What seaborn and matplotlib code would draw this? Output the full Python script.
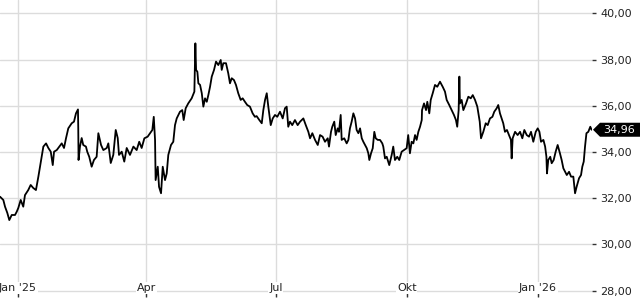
import pandas as pd
import matplotlib
matplotlib.use('Agg')
import matplotlib.pyplot as plt
import seaborn as sns
from matplotlib.patches import Polygon
from matplotlib.transforms import IdentityTransform

# ---- data ----
start_date = '2025-01-01'
day_offsets = [
    -12.6, -10.3, -9.1, -7.5, -6.1, -4.4, -2.1, -0.9, 0.2, 1.9, 3.7, 4.9, 7.2, 8.9, 10.7,
    12.6, 14.3, 15.9, 17.8, 19.7, 21.3, 23.0, 24.4, 25.3, 27.2, 29.0, 30.7, 32.3, 33.7, 35.3,
    37.7, 39.3, 40.7, 42.1, 42.3, 42.5, 43.5, 44.7, 45.8, 47.7, 48.6, 50.0, 51.7, 53.3, 55.2,
    56.4, 58.3, 59.9, 62.3, 63.4, 65.1, 66.9, 68.6, 70.0, 70.9, 72.8, 74.6, 76.3, 78.6, 81.0,
    83.3, 85.1, 86.8, 88.7, 91.0, 92.7, 94.3, 95.3, 96.2, 96.4, 96.6, 98.1, 99.0, 100.4, 101.6,
    103.2, 104.4, 105.5, 107.4, 109.0, 110.2, 111.4, 113.7, 115.3, 116.3, 117.7, 119.5, 121.9, 123.8,
    124.5, 125.0, 125.9, 126.6, 127.8, 129.0, 130.1, 131.3, 132.5, 133.6, 134.8, 136.0, 137.6, 139.0, 140.6,
    142.3, 143.0, 144.1, 146.0, 147.6, 148.8, 150.0, 151.6, 153.0, 154.6, 156.3, 157.7, 159.3, 160.9, 162.8,
    164.7, 166.3, 167.5, 169.4, 171.1, 172.2, 173.4, 174.6, 175.7, 177.4, 178.8, 180.4, 182.0, 183.9, 185.8,
    187.4, 188.6, 189.7, 190.9, 192.5, 194.4, 196.3, 198.0, 200.3, 202.0, 203.8, 205.0, 206.6, 208.5, 210.4,
    212.0, 213.8, 215.5, 217.4, 218.3, 219.7, 220.6, 222.0, 223.0, 224.4, 225.3, 226.5, 227.2, 229.0, 230.7,
    231.9, 233.0, 234.2, 235.4, 236.6, 237.7, 238.9, 240.1, 241.3, 242.4, 243.6, 244.8, 245.9, 246.6, 247.8,
    249.0, 250.1, 251.1, 252.5, 254.1, 255.7,
    256.4, 257.6, 258.8, 260.6, 262.3, 263.4, 264.6, 266.2, 267.6, 269.3, 270.9, 272.8, 273.9, 275.1, 276.3,
    277.5, 278.7, 279.8, 281.0, 282.2, 283.4, 283.6, 285.0, 286.4, 287.3, 288.7, 289.7, 291.1, 292.7, 294.3,
    296.2, 298.1, 299.7, 300.9, 302.7, 304.4, 306.0, 307.4, 308.3, 309.3, 309.8, 310.2, 311.4, 312.6, 314.5,
    316.1, 317.8, 319.2, 320.8, 322.4,
    324.1, 325.0, 326.6, 328.3, 329.7, 331.3, 333.0, 334.3, 336.0, 337.1, 338.3, 339.5, 340.6, 341.8, 343.2,
    344.6, 346.0, 346.5, 347.2, 348.9, 350.7, 352.4, 354.0, 355.4, 357.1, 358.7, 360.1, 361.7, 363.4, 364.8,
    366.0, 367.1, 368.8, 370.0, 370.9, 371.3, 372.2, 373.6, 374.6, 376.0, 377.4, 378.8, 380.4, 381.6, 382.8,
    384.0, 385.2, 386.8, 388.2, 389.8, 391.0, 392.1, 393.8, 395.2, 396.1, 397.1, 398.0, 399.0, 400.3, 401.7,
    402.6,
]
prices = [
    32.06, 31.92, 31.63, 31.36, 31.05, 31.27, 31.27, 31.41, 31.57, 31.92, 31.63, 32.13, 32.35, 32.57, 32.44,
    32.35, 32.93, 33.52, 34.23, 34.37, 34.17, 34.01, 33.43, 34.01, 34.08, 34.23, 34.37, 34.17, 34.59, 35.02,
    35.24, 35.31, 35.67, 35.84, 35.03, 33.65, 34.23, 34.60, 34.30, 34.23, 34.01, 33.79, 33.36, 33.65, 33.79,
    34.81, 34.30, 34.08, 34.17, 34.37, 33.52, 33.87, 34.95, 34.60, 33.87, 34.01, 33.58, 34.17, 33.87, 34.23,
    34.08, 34.44, 34.17, 34.59, 34.66, 34.81, 34.95, 35.52, 34.52, 33.79, 32.78, 33.36, 32.49, 32.21, 33.36,
    32.78, 33.07, 33.87, 34.30, 34.44, 35.16, 35.45, 35.74, 35.81, 35.38, 35.89, 36.10, 36.32, 36.61,
    38.70, 37.55, 37.47, 36.97, 36.90, 36.54, 35.96, 36.32, 36.17, 36.46, 36.82, 37.26, 37.55, 37.91, 37.76,
    37.98, 37.55, 37.84, 37.84, 37.40, 36.97, 37.19, 37.11, 36.90, 36.54, 36.25, 36.32, 36.17, 36.03, 35.96,
    35.67, 35.52, 35.55, 35.38, 35.24, 35.81, 36.25, 36.54, 35.96, 35.16, 35.45, 35.60, 35.52, 35.74, 35.45,
    35.89, 35.96, 35.09, 35.31, 35.16, 35.38, 35.16, 35.31, 35.45, 35.16, 34.87, 34.59, 34.81, 34.52, 34.30,
    34.73, 34.66, 34.44, 34.59, 34.23, 34.87, 35.09, 35.31, 34.73, 35.02, 34.87, 35.60, 34.52, 34.59, 34.37,
    34.52, 35.02, 35.31, 35.67, 35.45, 34.95, 34.81, 35.02, 34.59, 34.44, 34.30, 34.16, 33.94, 33.65, 33.94,
    34.16, 34.87, 34.59, 34.52, 34.52, 34.37,
    34.23, 33.72, 33.79, 33.43, 33.87, 34.23, 33.65, 33.79, 33.65, 34.01, 34.08, 34.16, 34.73, 33.94, 34.44,
    34.37, 34.73, 34.52, 34.87, 35.09, 35.38, 35.81, 36.10, 35.81, 36.17, 35.67, 36.25, 36.54, 36.90, 36.82,
    37.04, 36.82, 36.61, 36.25, 36.03, 35.81, 35.60, 35.38, 35.09, 35.81, 37.26, 36.10, 36.25, 35.81, 36.10,
    36.39, 36.32, 36.46, 36.25, 35.96,
    35.31, 34.59, 34.87, 35.24, 35.16, 35.45, 35.52, 35.74, 35.89, 36.03, 35.67, 35.45, 35.24, 34.87, 34.95,
    34.73, 34.52, 33.72, 34.59, 34.87, 34.73, 34.87, 34.59, 34.95, 34.73, 34.66, 34.87, 34.44, 34.87, 35.02,
    34.87, 34.44, 34.52, 34.23, 33.79, 33.07, 33.65, 33.79, 33.51, 33.65, 34.01, 34.30, 33.94, 33.65, 33.29,
    33.14, 33.00, 33.14, 32.93, 32.93, 32.21, 32.49, 32.86, 33.00, 33.36, 33.58, 34.23, 34.81, 34.87, 35.09,
    34.96,
]
xtick_dates = ['2025-01-01', '2025-04-01', '2025-07-01', '2025-10-01', '2026-01-01']
xtick_labels = ["Jan '25", 'Apr', 'Jul', 'Okt', "Jan '26"]
ytick_values = [28, 30, 32, 34, 36, 38, 40]
ytick_labels = ['28,00', '30,00', '32,00', '34,00', '36,00', '38,00', '40,00']
last_price = 34.96
last_label = '34,96'

# ---- style ----
sns.set_style('white')
plt.rcParams['font.family'] = ['DejaVu Sans']

start = pd.Timestamp(start_date)
df = pd.DataFrame({
    'date': start + pd.to_timedelta(day_offsets, unit='D'),
    'price': prices,
})

fig = plt.figure(figsize=(6.4, 3.0), dpi=100)
ax = fig.add_axes([0.0, 0.01, 592 / 640, 0.99])

sns.lineplot(data=df, x='date', y='price', ax=ax, color='black',
             linewidth=1.3, estimator=None, sort=False, zorder=3)

ax.set_xlim(start - pd.Timedelta(days=12.63), start + pd.Timedelta(days=402.9))
ax.set_ylim(27.72, 40.576)

for s in ax.spines.values():
    s.set_visible(False)

ax.set_xlabel('')
ax.set_ylabel('')

ax.set_xticks(pd.to_datetime(xtick_dates), xtick_labels)
ax.set_yticks(ytick_values, ytick_labels)
ax.yaxis.tick_right()

ax.grid(True, color='#dcdcdc', linewidth=1.0)
ax.yaxis.set_zorder(0.4)
ax.xaxis.set_zorder(0.6)

ax.tick_params(axis='x', which='major', bottom=True, top=False, direction='in',
               length=3, width=1, color='#333333', labelcolor='#222222',
               labelsize=8, pad=-10)
ax.tick_params(axis='y', which='major', right=True, left=False, labelright=True,
               labelleft=False, direction='out', length=3, width=1,
               color='#333333', labelcolor='#222222', labelsize=8, pad=3)

for lbl in ax.get_xticklabels():
    lbl.set_bbox(dict(facecolor='white', edgecolor='none', pad=0.5))

# ---- last value tag ----
yd = ax.transData.transform((0, last_price))[1]
x_tip = 593
tag = Polygon([(x_tip, yd), (x_tip + 7, yd + 7), (640, yd + 7), (640, yd - 7), (x_tip + 7, yd - 7)],
              closed=True, facecolor='black', edgecolor='none', transform=IdentityTransform())
fig.add_artist(tag)
fig.text(619 / 640, yd / 300, last_label, color='white', ha='center', va='center', fontsize=8)

fig.savefig('out.png', dpi=100)
